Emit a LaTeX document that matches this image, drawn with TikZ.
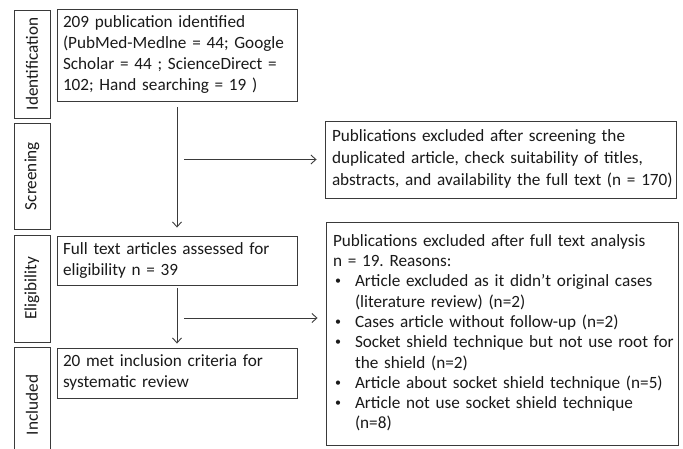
\documentclass[tikz,border=0pt]{standalone}
\usepackage{fontspec}
\setmainfont{Carlito}
\usetikzlibrary{arrows.meta}
\definecolor{ln}{HTML}{3a3a3a}
\definecolor{tx}{HTML}{1a1a1a}
\newcommand\bitem{\makebox[22pt][l]{\hspace{2pt}\raisebox{2pt}{\fontsize{12}{12}\selectfont\textbullet}}}
\newcommand\bcont{\hspace{22pt}}
\newcommand\lines[1]{\begin{tabular}{@{}l@{}}#1\end{tabular}}
\frenchspacing
\begin{document}
\begin{tikzpicture}[x=1pt,y=-1pt,
  box/.style={draw=ln, line width=0.9pt, inner xsep=6pt, inner ysep=0pt, align=left,
    font=\fontsize{17.2}{21}\selectfont, text=tx},
  side/.style={draw=ln, line width=0.9pt, minimum width=36pt, inner sep=0pt,
    font=\fontsize{17.2}{20}\selectfont, text=tx},
  arr/.style={draw=ln, line width=0.9pt, -{Straight Barb[length=5pt,width=9pt]}}]
\useasboundingbox[fill=white] (0,0) rectangle (683,449);

% side labels
\node[side, minimum height=108pt] (sid) at (32,64) {\rotatebox{90}{Identification}};
\node[side, minimum height=106pt] (ssc) at (32,176) {\rotatebox{90}{Screening}};
\node[side, minimum height=107pt] (sel) at (32,288.5) {\rotatebox{90}{Eligibility}};
\node[side, minimum height=116pt] (sin) at (32,405) {\rotatebox{90}{Included}};

% main boxes
\node[box, text width=228pt, minimum height=92pt] (b1) at (177,55)
 {\lines{209 publication identified\\(PubMed-Medlne = 44; Google\\Scholar = 44 ; ScienceDirect =\\102; Hand searching = 19 )}};
\node[box, text width=337pt, minimum height=77pt, inner xsep=7pt,
      font=\fontsize{17.2}{22}\selectfont] (b2) at (500.5,159.5)
 {\lines{Publications excluded after screening the\\duplicated article, check suitability of titles,\\abstracts, and availability the full text (n = 170)}};
\node[box, text width=228pt, minimum height=49pt] (b3) at (177,260.5)
 {\lines{Full text articles assessed for\\eligibility n = 39}};
\node[box, text width=228pt, minimum height=50pt] (b5) at (177,373)
 {\lines{20 met inclusion criteria for\\systematic review}};
\node[box, text width=338pt, minimum height=223pt, inner xsep=7pt,
      font=\fontsize{17.2}{20.3}\selectfont] (b4) at (502,333.5)
 {\lines{Publications excluded after full text analysis\\
  n = 19. Reasons:\\
  \bitem Article excluded as it didn’t original cases\\
  \bcont (literature review) (n=2)\\
  \bitem Cases article without follow-up (n=2)\\
  \bitem Socket shield technique but not use root for\\
  \bcont the shield (n=2)\\
  \bitem Article about socket shield technique (n=5)\\
  \bitem Article not use socket shield technique\\
  \bcont (n=8)}};

% connectors
\draw[arr] ([yshift=-6pt]b1.south) -- ([yshift=8pt]b3.north);
\coordinate (h1) at ([xshift=7pt]b1.south |- b2.west);
\draw[arr] (h1) -- ([xshift=-8pt]b2.west);
\draw[arr] ([yshift=-3pt]b3.south) -- ([yshift=4pt]b5.north);
\coordinate (h2) at (184,318);
\draw[arr] (h2) -- ([xshift=-8pt]h2 -| b4.west);
\end{tikzpicture}
\end{document}
